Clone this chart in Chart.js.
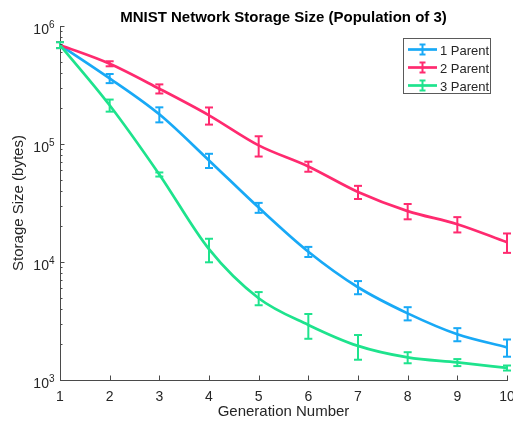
<!DOCTYPE html>
<html><head><meta charset="utf-8">
<script src="https://cdn.jsdelivr.net/npm/chart.js@4"></script>
<style>
html,body{margin:0;padding:0;overflow:hidden;background:#fff}
#wrap{width:520px;height:423px;position:relative}
</style>
</head><body>
<div id="wrap"><canvas id="c"></canvas></div>
<script>
// ---- data ----
const generations = [1, 2, 3, 4, 5, 6, 7, 8, 9, 10];
const seriesNames = ['1 Parent', '2 Parent', '3 Parent'];
const parent1    = [6.9e5, 3.6e5, 1.785e5, 7.26e4, 2.89e4, 1.223e4, 6110, 3670, 2440, 1890];
const parent1Err = [4.0e4, 3.2e4, 2.6e4, 1.0e4, 2800, 1200, 780, 470, 310, 315];
const parent2    = [6.9e5, 4.79e5, 2.94e5, 1.75e5, 9.73e4, 6.45e4, 3.92e4, 2.70e4, 2.09e4, 1.47e4];
const parent2Err = [4.0e4, 2.35e4, 2.6e4, 2.9e4, 1.9e4, 6300, 5000, 4000, 3100, 2750];
const parent3    = [6.9e5, 2.13e5, 5.52e4, 1.284e4, 4930, 2930, 1945, 1553, 1408, 1265];
const parent3Err = [4.0e4, 2.5e4, 2200, 2900, 630, 695, 460, 167, 96, 62];
const xTickValues = [1, 2, 3, 4, 5, 6, 7, 8, 9, 10];
const yTickExponents = [3, 4, 5, 6];
const titleText = 'MNIST Network Storage Size (Population of 3)';
const xTitle = 'Generation Number';
const yTitle = 'Storage Size (bytes)';

const colors = ['#18A9F6', '#FF2A6F', '#1EE38D'];
const FONT = "'Liberation Sans', Arial, Helvetica, sans-serif";
const TXT = '#262626';
const AXIS = '#4a4a4a';

Chart.defaults.font.family = FONT;

const values = [parent1, parent2, parent3];
const errors = [parent1Err, parent2Err, parent3Err];

const datasets = values.map((vals, s) => ({
  label: seriesNames[s],
  data: generations.map((g, i) => ({ x: g, y: vals[i] })),
  errors: errors[s],
  borderColor: colors[s],
  backgroundColor: colors[s],
  borderWidth: 2.7,
  pointRadius: 0,
  fill: false,
  cubicInterpolationMode: 'monotone',
  order: 2 - s
}));

function line(ctx, x1, y1, x2, y2) {
  ctx.beginPath(); ctx.moveTo(x1, y1); ctx.lineTo(x2, y2); ctx.stroke();
}

const matlabPlugin = {
  id: 'matlab',
  afterDatasetsDraw(chart) {
    const ctx = chart.ctx, xs = chart.scales.x, ys = chart.scales.y;
    ctx.save();
    chart.data.datasets.forEach((ds) => {
      ctx.strokeStyle = ds.borderColor;
      ctx.lineWidth = 2;
      ds.data.forEach((p, i) => {
        const e = ds.errors[i];
        const x = xs.getPixelForValue(p.x);
        const yHi = ys.getPixelForValue(p.y + e);
        const yLo = ys.getPixelForValue(p.y - e);
        line(ctx, x, yHi, x, yLo);
        line(ctx, x - 4, yHi, x + 4, yHi);
        line(ctx, x - 4, yLo, x + 4, yLo);
      });
    });
    ctx.restore();
  },
  afterDraw(chart) {
    const ctx = chart.ctx, xs = chart.scales.x, ys = chart.scales.y, ca = chart.chartArea;
    ctx.save();
    // inward ticks
    ctx.strokeStyle = AXIS; ctx.lineWidth = 1;
    yTickExponents.forEach(e => {
      const y = Math.round(ys.getPixelForValue(Math.pow(10, e))) + 0.5;
      line(ctx, ca.left, y, ca.left + 4.5, y);
    });
    for (let e = yTickExponents[0]; e < yTickExponents[yTickExponents.length - 1]; e++) {
      for (let k = 2; k <= 9; k++) {
        const y = Math.round(ys.getPixelForValue(k * Math.pow(10, e))) + 0.5;
        line(ctx, ca.left, y, ca.left + 2.5, y);
      }
    }
    xTickValues.forEach(v => {
      const x = Math.round(xs.getPixelForValue(v)) + 0.5;
      line(ctx, x, ca.bottom, x, ca.bottom - 4.5);
    });
    // y tick labels 10^n
    ctx.fillStyle = TXT;
    ctx.textBaseline = 'alphabetic';
    yTickExponents.forEach(e => {
      const y = ys.getPixelForValue(Math.pow(10, e));
      ctx.font = '10px ' + FONT;
      const ex = String(e);
      const w2 = ctx.measureText(ex).width;
      ctx.font = '14px ' + FONT;
      const w1 = ctx.measureText('10').width;
      const right = ca.left - 5.5;
      ctx.textAlign = 'left';
      ctx.fillText('10', right - w2 - w1, y + 8);
      ctx.font = '10px ' + FONT;
      ctx.fillText(ex, right - w2, y + 2);
    });
    // title
    ctx.font = 'bold 15px ' + FONT;
    ctx.textAlign = 'center';
    ctx.fillStyle = '#000';
    ctx.fillText(titleText, (ca.left + ca.right) / 2, 22);
    // legend
    const bx = 403.5, by = 38.5, bw = 87, bh = 55;
    ctx.fillStyle = '#fff';
    ctx.fillRect(bx, by, bw, bh);
    ctx.strokeStyle = '#5a5a5a'; ctx.lineWidth = 1;
    ctx.strokeRect(bx, by, bw, bh);
    chart.data.datasets.forEach((ds, s) => {
      const cy = 49.5 + s * 18;
      ctx.strokeStyle = ds.borderColor;
      ctx.lineWidth = 2.7;
      line(ctx, 408, cy, 437, cy);
      ctx.lineWidth = 2;
      line(ctx, 422.5, cy - 5, 422.5, cy + 5);
      line(ctx, 419.5, cy - 5, 425.5, cy - 5);
      line(ctx, 419.5, cy + 5, 425.5, cy + 5);
      ctx.fillStyle = TXT;
      ctx.font = '13px ' + FONT;
      ctx.textAlign = 'left';
      ctx.fillText(ds.label, 440, cy + 5);
    });
    ctx.restore();
  }
};

new Chart(document.getElementById('c'), {
  type: 'line',
  data: { datasets },
  options: {
    responsive: true,
    maintainAspectRatio: false,
    animation: false,
    devicePixelRatio: 1,
    layout: { padding: { left: 0, top: 26, right: 13, bottom: 0 } },
    plugins: { legend: { display: false }, title: { display: false }, tooltip: { enabled: false } },
    scales: {
      x: {
        type: 'linear', min: 1, max: 10,
        afterBuildTicks: (s) => { s.ticks = xTickValues.map(v => ({ value: v })); },
        ticks: { font: { size: 14 }, color: TXT, padding: 9, maxRotation: 0, autoSkip: false },
        grid: { display: false, drawTicks: false },
        border: { display: true, color: AXIS, width: 1 },
        title: { display: true, text: xTitle, font: { size: 15 }, color: TXT, padding: { top: 0, bottom: 2 } },
        afterFit: (s) => { s.height = 43; s.paddingLeft = 0; s.paddingRight = 0; }
      },
      y: {
        type: 'logarithmic', min: 1000, max: 1e6,
        ticks: { display: false },
        grid: { display: false, drawTicks: false },
        border: { display: true, color: AXIS, width: 1 },
        title: { display: true, text: yTitle, font: { size: 15 }, color: TXT, padding: { top: 10, bottom: 0 } },
        afterFit: (s) => { s.width = 60; s.paddingTop = 0; s.paddingBottom = 0; }
      }
    }
  },
  plugins: [matlabPlugin]
});
</script>
</body></html>
